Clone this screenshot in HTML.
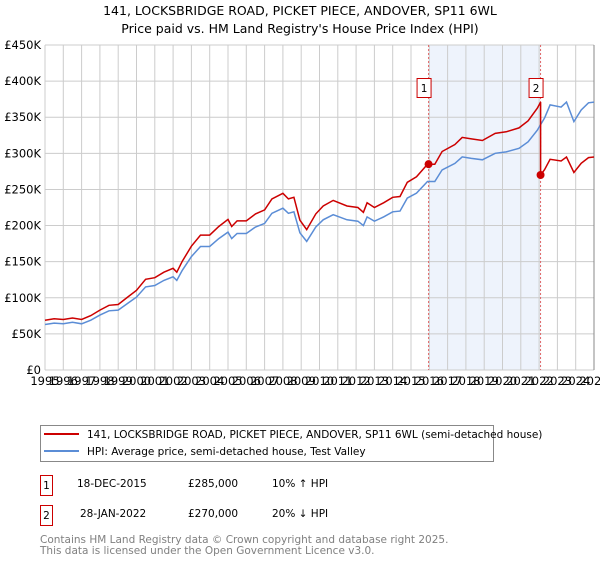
<!DOCTYPE html>
<html><head><meta charset="utf-8"><style>
body{margin:0;background:#fff;font-family:"DejaVu Sans","Liberation Sans",sans-serif;}
svg text{font-family:"DejaVu Sans","Liberation Sans",sans-serif;}
</style></head><body>
<svg id="chart" width="600" height="560" xmlns="http://www.w3.org/2000/svg">
<text x="300" y="15" text-anchor="middle" font-size="12.5">141, LOCKSBRIDGE ROAD, PICKET PIECE, ANDOVER, SP11 6WL</text>
<text x="300" y="33" text-anchor="middle" font-size="12.5">Price paid vs. HM Land Registry's House Price Index (HPI)</text>
<g id="plot"></g>
<g>
<rect x="40.5" y="425.5" width="453" height="36" fill="#fff" stroke="#888"/>
<line x1="44" y1="434" x2="79" y2="434" stroke="#cc0000" stroke-width="2"/>
<text x="87" y="438" font-size="10.5">141, LOCKSBRIDGE ROAD, PICKET PIECE, ANDOVER, SP11 6WL (semi-detached house)</text>
<line x1="44" y1="451" x2="79" y2="451" stroke="#5b8dd6" stroke-width="2"/>
<text x="87" y="455" font-size="10.5">HPI: Average price, semi-detached house, Test Valley</text>
</g>
<g font-size="10.5">
<rect x="40.5" y="475.5" width="12" height="20" fill="#fff" stroke="#cc0000"/>
<text x="46.5" y="489" text-anchor="middle">1</text>
<text x="77" y="487">18-DEC-2015</text><text x="188" y="487">£285,000</text><text x="272" y="487">10% ↑ HPI</text>
<rect x="40.5" y="505.5" width="12" height="20" fill="#fff" stroke="#cc0000"/>
<text x="46.5" y="519" text-anchor="middle">2</text>
<text x="80" y="517">28-JAN-2022</text><text x="188" y="517">£270,000</text><text x="272" y="517">20% ↓ HPI</text>
</g>
<g font-size="10.5" fill="#808080">
<text x="40" y="543">Contains HM Land Registry data © Crown copyright and database right 2025.</text>
<text x="40" y="554">This data is licensed under the Open Government Licence v3.0.</text>
</g>
</svg>
<script>
const hpiYears=[1995,1995.5,1996,1996.5,1997,1997.5,1998,1998.5,1999,1999.5,2000,2000.5,2001,2001.5,2002,2002.2,2002.5,2003,2003.5,2004,2004.5,2005,2005.2,2005.5,2006,2006.5,2007,2007.4,2008,2008.3,2008.6,2008.93,2009.3,2009.8,2010.2,2010.75,2011.5,2012.1,2012.4,2012.6,2013.0,2013.5,2014.0,2014.4,2014.8,2015.3,2015.9,2016.3,2016.7,2017.4,2017.8,2018.3,2018.9,2019.6,2020.2,2020.9,2021.4,2021.9,2022.3,2022.6,2023.2,2023.5,2023.9,2024.3,2024.7,2025];
const hpiValues=[63,65,64,66,64,69,76,82,83,92,101,115,117,124,129,124,138,157,171,171,182,191,182,189,189,198,203,217,224,217,219,190,178,198,208,215,208,206,200,212,206,212,219,220,238,245,261,261,277,286,295,293,291,300,302,307,316,332,349,367,364,371,344,360,370,371];
const saleDates=[2015.96,2022.08];
const salePrices=[285000,270000];
const saleLabels=["1","2"];
const yTicks=[0,50,100,150,200,250,300,350,400,450];
const yTickLabels=["£0","£50K","£100K","£150K","£200K","£250K","£300K","£350K","£400K","£450K"];
const xTicks=[1995,1996,1997,1998,1999,2000,2001,2002,2003,2004,2005,2006,2007,2008,2009,2010,2011,2012,2013,2014,2015,2016,2017,2018,2019,2020,2021,2022,2023,2024,2025];

const L=45,R=594,T=45,B=370;
const x=y=>L+(y-1995)/30*(R-L);
const yv=v=>B-v/450*(B-T);
const ns="http://www.w3.org/2000/svg";
const g=document.getElementById('plot');
function mk(t,a){const e=document.createElementNS(ns,t);for(const k in a)e.setAttribute(k,a[k]);g.appendChild(e);return e;}
function hpiAt(t){for(let i=1;i<hpiYears.length;i++){if(t<=hpiYears[i]){const f=(t-hpiYears[i-1])/(hpiYears[i]-hpiYears[i-1]);return hpiValues[i-1]+f*(hpiValues[i]-hpiValues[i-1]);}}return hpiValues[hpiValues.length-1];}
const sh=mk('rect',{x:x(saleDates[0]),y:T,width:x(saleDates[1])-x(saleDates[0]),height:B-T,fill:'#eef3fc'});


xTicks.forEach(t=>{const l=mk('line',{x1:x(t),x2:x(t),y1:T,y2:B,stroke:'#cccccc'});


const tx=mk('text',{x:x(t),y:B+15,'font-size':'11.5','text-anchor':'middle'});tx.textContent=t;

});
yTicks.forEach((t,i)=>{const l=mk('line',{x1:L,x2:R,y1:yv(t),y2:yv(t),stroke:'#cccccc'});


const tx=mk('text',{x:L-4,y:yv(t)+4,'font-size':'11.5','text-anchor':'end'});tx.textContent=yTickLabels[i];

});
mk('line',{x1:R,x2:R,y1:T,y2:B,stroke:'#888'});
saleDates.forEach((d,i)=>{const l=mk('line',{x1:x(d),x2:x(d),y1:T,y2:B,stroke:'#e06666','stroke-dasharray':'2,2'});


const r=mk('rect',{x:x(d)-11.5,y:78.5,width:14,height:19,fill:'#fff',stroke:'#cc0000'});


const tx=mk('text',{x:x(d)-4.5,y:92,'font-size':'10.5','text-anchor':'middle'});tx.textContent=saleLabels[i];

});
const hp=hpiYears.map((t,i)=>`${x(t).toFixed(1)},${yv(hpiValues[i]).toFixed(1)}`).join(' ');
const hl=mk('polyline',{points:hp,fill:'none',stroke:'#5b8dd6','stroke-width':1.5});


const r0=salePrices[0]/1000/hpiAt(saleDates[0]);
const r1=salePrices[1]/1000/hpiAt(saleDates[1]);
let pts=[];
hpiYears.forEach((t,i)=>{if(t<saleDates[1])pts.push([t,hpiValues[i]*r0]);});
pts.push([saleDates[1],hpiAt(saleDates[1])*r0]);
pts.push([saleDates[1],salePrices[1]/1000]);
hpiYears.forEach((t,i)=>{if(t>saleDates[1])pts.push([t,hpiValues[i]*r1]);});
const rl=mk('polyline',{points:pts.map(p=>`${x(p[0]).toFixed(1)},${yv(p[1]).toFixed(1)}`).join(' '),fill:'none',stroke:'#cc0000','stroke-width':1.5});


saleDates.forEach((d,i)=>{const c=mk('circle',{cx:x(d),cy:yv(salePrices[i]/1000),r:4,fill:'#cc0000'});

});
</script>
</body></html>
